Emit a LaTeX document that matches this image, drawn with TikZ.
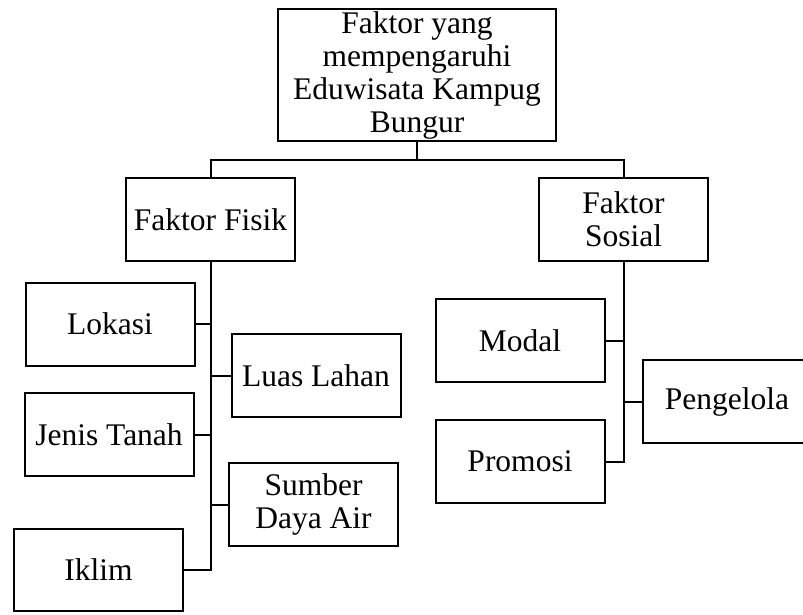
\documentclass[tikz,border=0pt]{standalone}
\usepackage{fontspec}
\setmainfont{Liberation Serif}
\begin{document}
\begin{tikzpicture}[x=1pt,y=-1pt,line width=2pt,
  kotak/.style={draw, minimum width=169pt, minimum height=83pt, inner sep=2pt, align=center, font=\fontsize{31.5}{33}\selectfont}]
\useasboundingbox (0,0) rectangle (803,614);
\node[kotak, minimum width=278pt, minimum height=130pt] (judul) at (417,75) {Faktor yang\\mempengaruhi\\Eduwisata Kampug\\Bungur};
\node[kotak] (fisik) at (210.5,219.5) {Faktor Fisik};
\node[kotak] (sosial) at (623.5,219.5) {Faktor\\Sosial};
% faktor fisik
\node[kotak] (lokasi) at (110,324) {Lokasi};
\node[kotak] (luas) at (316,375.5) {Luas Lahan};
\node[kotak] (jenis) at (109,434.5) {Jenis Tanah};
\node[kotak] (sumber) at (313.5,504.5) {Sumber\\Daya Air};
\node[kotak, minimum height=82pt] (iklim) at (98.5,570) {Iklim};
% faktor sosial
\node[kotak] (modal) at (520,340.5) {Modal};
\node[kotak] (pengelola) at (727,401.5) {Pengelola};
\node[kotak] (promosi) at (520,461.5) {Promosi};
\draw (judul.south) -- ++(0,18) -| (fisik.north);
\draw (judul.south) -- ++(0,18) -| (sosial.north);
\draw (fisik.south) -- (fisik.south |- iklim.east) -- (iklim.east);
\draw (lokasi.east) -- (lokasi.east -| fisik.south);
\draw (jenis.east) -- (jenis.east -| fisik.south);
\draw (luas.west) -- (luas.west -| fisik.south);
\draw (sumber.west) -- (sumber.west -| fisik.south);
\draw (sosial.south) -- (sosial.south |- promosi.east) -- (promosi.east);
\draw (modal.east) -- (modal.east -| sosial.south);
\draw (pengelola.west) -- (pengelola.west -| sosial.south);
\end{tikzpicture}
\end{document}
